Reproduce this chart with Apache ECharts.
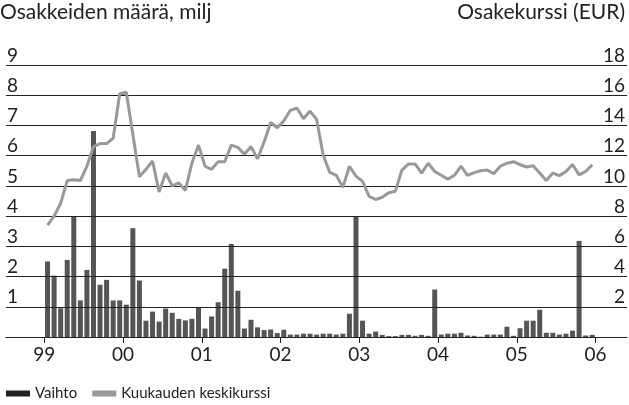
<!DOCTYPE html>
<html lang="fi">
<head>
  <meta charset="utf-8">
  <title>Osakkeiden vaihto ja keskikurssi</title>
  <script type="text/javascript" src="https://cdn.jsdelivr.net/npm/echarts@6/dist/echarts.min.js"></script>
  <style type="text/css">
    * {
      margin: 0;
      padding: 0;
    }
    html, body, #chart {
      width: 100%;
      height: 100%;
      overflow: hidden;
      background: #fff;
    }
  </style>
</head>
<body>
  <div id="chart"></div>
  <script type="text/javascript">
    // vuosien tunnisteet (tikki jokaisen vuoden alussa)
    var yearLabels = ['99', '00', '01', '02', '03', '04', '05', '06'];

    // vaihto, milj. osaketta / kk, 1999-01 ... 2005-12
    var vaihto = [
      2.5, 2.03, 0.95, 2.55, 4.0, 1.21, 2.22, 6.82, 1.73, 1.89, 1.21, 1.21,
      1.07, 3.6, 1.87, 0.54, 0.84, 0.51, 0.94, 0.8, 0.6, 0.55, 0.6, 0.98,
      0.28, 0.68, 1.15, 2.26, 3.08, 1.53, 0.28, 0.57, 0.32, 0.23, 0.25, 0.13,
      0.24, 0.08, 0.08, 0.11, 0.11, 0.08, 0.11, 0.11, 0.08, 0.11, 0.77, 3.97,
      0.54, 0.11, 0.18, 0.07, 0.03, 0.03, 0.07, 0.07, 0.04, 0.07, 0.04, 1.57,
      0.08, 0.11, 0.11, 0.14, 0.05, 0.04, 0.01, 0.08, 0.08, 0.08, 0.34, 0.04,
      0.29, 0.54, 0.54, 0.9, 0.14, 0.14, 0.08, 0.11, 0.21, 3.18, 0.05, 0.07
    ];

    // kuukauden keskikurssi, EUR
    var keskikurssi = [
      7.4, 8.0, 8.85, 10.35, 10.4, 10.35, 11.3, 12.6, 12.8, 12.8, 13.15, 16.1,
      16.2, 13.4, 10.6, 11.1, 11.65, 9.6, 10.85, 10.0, 10.2, 9.7, 11.5, 12.7,
      11.3, 11.1, 11.6, 11.6, 12.7, 12.55, 12.1, 12.6, 11.8, 12.9, 14.2, 13.85,
      14.3, 15.0, 15.15, 14.45, 14.95, 14.4, 12.05, 10.9, 10.7, 9.9, 11.3, 10.65,
      10.3, 9.3, 9.1, 9.25, 9.55, 9.65, 11.05, 11.45, 11.45, 10.85, 11.5, 10.95,
      10.7, 10.45, 10.7, 11.3, 10.7, 10.88, 11.0, 11.05, 10.8, 11.3, 11.5, 11.6,
      11.4, 11.25, 11.33, 10.85, 10.35, 10.85, 10.68, 10.95, 11.42, 10.73, 10.95, 11.4
    ];

    var font = 'Lato';
    var ink = '#222';

    // kuukaudet x-akselille: kuukauden keskikohta, 0 = tammikuun 1999 alku
    var vaihtoData = vaihto.map(function (v, i) { return [i + 0.5, v]; });
    var kurssiData = keskikurssi.map(function (v, i) { return [i + 0.5, v]; });
    var yearTicks = yearLabels.map(function (s, i) { return i * 12; });

    var option = {
      animation: false,
      title: [
        {
          text: 'Osakkeiden määrä, milj',
          left: 0,
          top: 2,
          padding: 0,
          textStyle: { fontFamily: font, fontSize: 21, fontWeight: 'normal', color: ink }
        },
        {
          text: 'Osakekurssi (EUR)',
          right: 4,
          top: 2,
          padding: 0,
          textStyle: { fontFamily: font, fontSize: 21, fontWeight: 'normal', color: ink }
        }
      ],
      legend: {
        left: 6,
        top: 386,
        padding: 0,
        itemWidth: 24,
        itemHeight: 6,
        itemGap: 15,
        icon: 'rect',
        textStyle: { fontFamily: font, fontSize: 15, color: ink },
        data: [
          { name: 'Vaihto', itemStyle: { color: '#222' } },
          { name: 'Kuukauden keskikurssi', itemStyle: { color: '#999' } }
        ]
      },
      grid: {
        left: 6,
        right: 2,
        top: 65,
        bottom: 68
      },
      xAxis: {
        type: 'value',
        min: -5.83,
        max: 88.8,
        axisLine: { show: true, onZero: false, lineStyle: { color: ink, width: 1.2 } },
        axisTick: {
          show: true,
          length: 6,
          customValues: yearTicks,
          lineStyle: { color: ink }
        },
        axisLabel: {
          customValues: yearTicks,
          margin: 8,
          fontFamily: font,
          fontSize: 19,
          color: ink,
          formatter: function (v) {
            return yearLabels[Math.round(v / 12)];
          }
        },
        splitLine: { show: false }
      },
      yAxis: [
        {
          type: 'value',
          min: 0,
          max: 9,
          interval: 1,
          z: 3,
          axisLine: { show: false },
          axisTick: { show: false },
          axisLabel: {
            inside: true,
            margin: 1,
            verticalAlign: 'bottom',
            fontFamily: font,
            fontSize: 19,
            color: ink,
            formatter: function (v) { return v === 0 ? '' : String(v); }
          },
          splitLine: { lineStyle: { color: ink, width: 1.2 } }
        },
        {
          type: 'value',
          min: 0,
          max: 18,
          interval: 2,
          z: 3,
          axisLine: { show: false },
          axisTick: { show: false },
          axisLabel: {
            inside: true,
            margin: 2,
            verticalAlign: 'bottom',
            fontFamily: font,
            fontSize: 19,
            color: ink,
            formatter: function (v) { return v === 0 ? '' : String(v); }
          },
          splitLine: { show: false }
        }
      ],
      series: [
        {
          name: 'Vaihto',
          type: 'bar',
          yAxisIndex: 0,
          barWidth: 5,
          itemStyle: { color: '#555' },
          data: vaihtoData
        },
        {
          name: 'Kuukauden keskikurssi',
          type: 'line',
          yAxisIndex: 1,
          z: 5,
          symbol: 'none',
          lineStyle: { color: '#999', width: 3 },
          itemStyle: { color: '#999' },
          data: kurssiData
        }
      ]
    };

    var chart = echarts.init(document.getElementById('chart'));
    chart.setOption(option);
  </script>
</body>
</html>
